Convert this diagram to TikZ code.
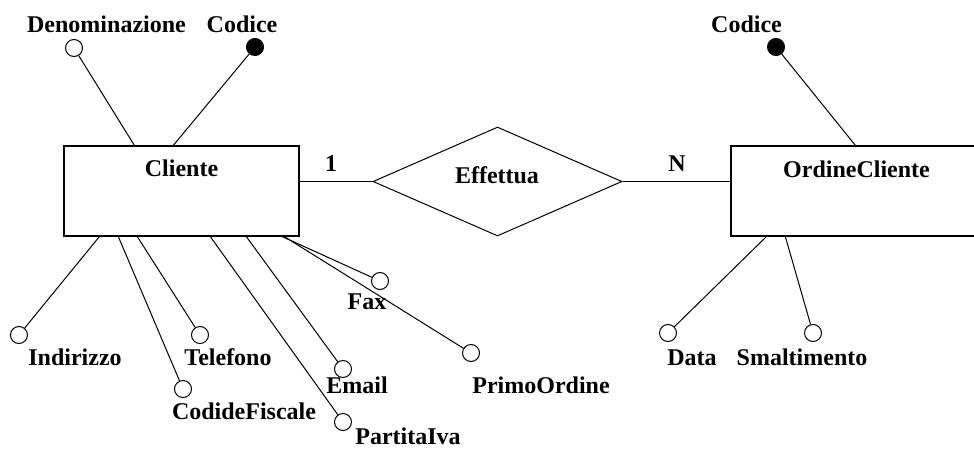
\documentclass[tikz,border=0pt]{standalone}
\usepackage{fontspec}
\setmainfont{Liberation Serif}
\usetikzlibrary{shapes.geometric}
\begin{document}
\begin{tikzpicture}[x=1pt, y=-1pt,
  entity/.style={draw, line width=1.3pt, rectangle, inner sep=0pt},
  relation/.style={draw, line width=1pt, diamond, inner sep=0pt,
    minimum width=249pt, minimum height=109pt},
  attr/.style={draw, line width=1pt, circle, inner sep=0pt, minimum size=17pt, fill=white},
  keyattr/.style={attr, fill=black},
  txt/.style={anchor=base, inner sep=0pt, font=\fontsize{24}{28}\selectfont\bfseries},
  link/.style={line width=1pt}]
\useasboundingbox (0,0) rectangle (974,450);
\clip (0,0) rectangle (974,450);

% entities and relationship
\node[entity, minimum width=235pt, minimum height=90pt] (cliente) at (181.5,191) {};
\node[entity, minimum width=260pt, minimum height=90pt] (ordine) at (861,191) {};
\node[relation] (effettua) at (497.5,181.5) {};

\node[txt] (tCliente) at (181.5,176) {Cliente};
\node[txt] (tOrdine) at (856.5,177) {OrdineCliente};
\node[txt] (tEffettua) at (497,183) {Effettua};
\node[txt] (tUno) at (331,171) {1};
\node[txt] (tEnne) at (677,171) {N};

\draw[link] (effettua.west) -- (effettua.west -| cliente.east);
\draw[link] (effettua.east) -- (effettua.east -| ordine.west);

% attributes of Cliente
\node[attr] (aDen) at (74,48) {};
\node[keyattr] (aCod) at (255,47) {};
\node[attr] (aInd) at (19,335) {};
\node[attr] (aTel) at (200,335) {};
\node[attr] (aCF) at (183,389) {};
\node[attr] (aMail) at (343,369) {};
\node[attr] (aPIva) at (343,422) {};
\node[attr] (aFax) at (380,281) {};
\node[attr] (aPrimo) at (471,353) {};

\draw[link] (aDen) -- ([xshift=71pt]cliente.north west);
\draw[link] (aCod) -- ([xshift=110pt]cliente.north west);
\draw[link] (aInd) -- ([xshift=36pt]cliente.south west);
\draw[link] (aCF) -- ([xshift=55pt]cliente.south west);
\draw[link] (aTel) -- ([xshift=74pt]cliente.south west);
\draw[link] (aPIva) -- ([xshift=147pt]cliente.south west);
\draw[link] (aMail) -- ([xshift=183pt]cliente.south west);
\draw[link] (aFax) -- ([xshift=219pt]cliente.south west);
\draw[link] (aPrimo) -- ([xshift=221pt]cliente.south west);

\node[txt] (tDen) at (106.5,32) {Denominazione};
\node[txt] (tCod) at (242,32) {Codice};
\node[txt] (tInd) at (75,365) {Indirizzo};
\node[txt] (tTel) at (228,365) {Telefono};
\node[txt] (tCF) at (244,419) {CodideFiscale};
\node[txt] (tMail) at (357,393) {Email};
\node[txt] (tPIva) at (408,444) {PartitaIva};
\node[txt] (tFax) at (367,309) {Fax};
\node[txt] (tPrimo) at (541,393) {PrimoOrdine};

% attributes of OrdineCliente
\node[keyattr] (oCod) at (776,47) {};
\node[attr] (oData) at (668,333) {};
\node[attr] (oSmalt) at (813,333) {};

\draw[link] (oCod) -- ([xshift=125pt]ordine.north west);
\draw[link] (oData) -- ([xshift=36pt]ordine.south west);
\draw[link] (oSmalt) -- ([xshift=55pt]ordine.south west);

\node[txt] (tOCod) at (746.5,32) {Codice};
\node[txt] (tData) at (692,365) {Data};
\node[txt] (tSmalt) at (802,365) {Smaltimento};
\end{tikzpicture}
\end{document}
